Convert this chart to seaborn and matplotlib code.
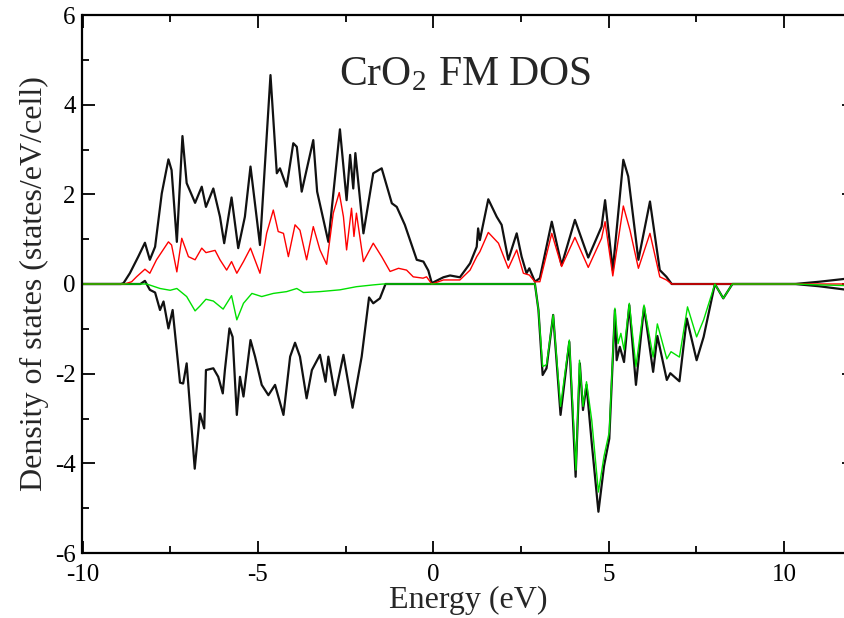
import matplotlib
matplotlib.use("Agg")
import matplotlib.pyplot as plt
import seaborn as sns
import pandas as pd
from matplotlib.ticker import MultipleLocator

# ---------------- data (energy eV, DOS states/eV/cell) ----------------
total_up = [(-10, 0), (-8.9, 0), (-8.83, 0.02), (-8.65, 0.24), (-8.41, 0.61), (-8.22, 0.92),
            (-8.08, 0.54), (-7.93, 0.83), (-7.74, 2.02), (-7.55, 2.78), (-7.46, 2.54), (-7.31, 0.94),
            (-7.15, 3.30), (-7.03, 2.25), (-6.79, 1.81), (-6.60, 2.17), (-6.48, 1.72), (-6.27, 2.13),
            (-6.08, 1.50), (-5.96, 0.91), (-5.75, 1.93), (-5.56, 0.80), (-5.37, 1.50), (-5.21, 2.62),
            (-4.94, 0.87), (-4.64, 4.66), (-4.46, 2.47), (-4.37, 2.58), (-4.18, 2.17), (-3.99, 3.14),
            (-3.89, 3.06), (-3.75, 2.06), (-3.42, 3.21), (-3.31, 2.06), (-2.99, 0.94), (-2.66, 3.45),
            (-2.47, 1.87), (-2.37, 2.88), (-2.28, 2.13), (-2.22, 2.92), (-1.99, 1.13), (-1.71, 2.47),
            (-1.47, 2.58), (-1.18, 1.80), (-1.04, 1.72), (-0.81, 1.32), (-0.47, 0.54), (-0.28, 0.50),
            (-0.14, 0.30), (-0.04, 0.02), (0.29, 0.15), (0.48, 0.19), (0.76, 0.15), (1.05, 0.46),
            (1.24, 0.83), (1.28, 1.24), (1.33, 0.98), (1.57, 1.89), (1.81, 1.50), (1.95, 1.32),
            (2.14, 0.54), (2.38, 1.13), (2.52, 0.61), (2.66, 0.24), (2.74, 0.35), (2.90, 0.05),
            (3.04, 0.13), (3.38, 1.39), (3.66, 0.42), (4.04, 1.43), (4.42, 0.59), (4.80, 1.28),
            (4.90, 1.87), (5.12, 0.31), (5.42, 2.77), (5.56, 2.40), (5.85, 0.54), (6.18, 1.84),
            (6.46, 0.31), (6.65, 0.16), (6.80, 0.0), (10.3, 0.0), (11.0, 0.05), (11.8, 0.12),
            (12.0, 0.14)]

cr_d_up = [(-10, 0), (-8.8, 0), (-8.6, 0.05), (-8.46, 0.16), (-8.22, 0.33), (-8.08, 0.24),
           (-7.89, 0.54), (-7.55, 0.94), (-7.46, 0.87), (-7.31, 0.27), (-7.17, 1.02), (-6.98, 0.61),
           (-6.79, 0.54), (-6.60, 0.80), (-6.48, 0.70), (-6.22, 0.75), (-6.08, 0.54), (-5.89, 0.31),
           (-5.75, 0.50), (-5.60, 0.24), (-5.41, 0.50), (-5.21, 0.80), (-4.94, 0.24), (-4.75, 1.13),
           (-4.56, 1.65), (-4.42, 1.17), (-4.27, 1.13), (-4.13, 0.61), (-3.94, 1.32), (-3.80, 1.20),
           (-3.61, 0.54), (-3.42, 1.28), (-3.23, 0.76), (-3.04, 0.44), (-2.85, 1.58), (-2.68, 2.04),
           (-2.56, 1.50), (-2.47, 0.76), (-2.33, 1.69), (-2.26, 1.06), (-2.19, 1.58), (-1.99, 0.50),
           (-1.71, 0.91), (-1.47, 0.61), (-1.23, 0.28), (-0.99, 0.35), (-0.76, 0.31), (-0.57, 0.16),
           (-0.29, 0.13), (-0.19, 0.16), (-0.04, 0.0), (0.29, 0.09), (0.76, 0.09), (1.05, 0.31),
           (1.24, 0.61), (1.33, 0.72), (1.57, 1.15), (1.86, 0.91), (2.14, 0.35), (2.38, 0.76),
           (2.57, 0.24), (2.74, 0.20), (2.90, 0.05), (3.04, 0.05), (3.38, 1.13), (3.66, 0.39),
           (4.04, 1.04), (4.42, 0.37), (4.80, 1.02), (4.90, 1.39), (5.12, 0.18), (5.42, 1.74),
           (5.61, 1.20), (5.85, 0.35), (6.18, 1.13), (6.46, 0.16), (6.65, 0.09), (6.80, 0.0),
           (12.0, 0.0)]

total_down = [(-10, 0), (-8.35, 0), (-8.22, 0.07), (-8.08, -0.13), (-7.93, -0.19), (-7.79, -0.58),
              (-7.69, -0.39), (-7.55, -0.99), (-7.43, -0.58), (-7.22, -2.20), (-7.13, -2.22),
              (-7.03, -1.77), (-6.80, -4.12), (-6.65, -2.89), (-6.53, -3.22), (-6.48, -1.92),
              (-6.27, -1.88), (-6.13, -2.07), (-6.00, -2.44), (-5.94, -1.92), (-5.81, -0.99),
              (-5.72, -1.18), (-5.60, -2.92), (-5.51, -2.07), (-5.41, -2.51), (-5.21, -1.25),
              (-5.08, -1.62), (-4.89, -2.25), (-4.70, -2.48), (-4.51, -2.25), (-4.27, -2.92),
              (-4.08, -1.62), (-3.94, -1.31), (-3.80, -1.62), (-3.61, -2.55), (-3.46, -1.92),
              (-3.23, -1.58), (-3.07, -2.18), (-2.99, -1.62), (-2.80, -2.48), (-2.56, -1.58),
              (-2.30, -2.76), (-2.04, -1.62), (-1.83, -0.30), (-1.71, -0.43), (-1.52, -0.32),
              (-1.36, 0), (2.90, 0), (3.00, -0.58), (3.12, -2.03), (3.23, -1.88), (3.42, -0.69),
              (3.63, -2.92), (3.88, -1.29), (4.06, -4.30), (4.18, -1.77), (4.27, -2.81), (4.37, -2.25),
              (4.52, -3.55), (4.71, -5.08), (4.87, -4.06), (5.02, -3.45), (5.18, -0.58), (5.23, -1.70),
              (5.32, -1.40), (5.44, -1.74), (5.59, -0.47), (5.78, -2.25), (6.01, -0.51), (6.27, -1.96),
              (6.39, -1.16), (6.66, -2.14), (6.76, -1.99), (7.02, -2.17), (7.23, -0.77), (7.51, -1.70),
              (7.71, -1.18), (8.03, 0), (8.27, -0.32), (8.53, 0), (10.3, 0), (11.0, -0.05),
              (11.8, -0.13), (12.0, -0.15)]

cr_d_down = [(-10, 0), (-8.17, 0), (-7.79, -0.10), (-7.50, -0.14), (-7.31, -0.10), (-7.03, -0.28),
             (-6.79, -0.60), (-6.65, -0.49), (-6.48, -0.34), (-6.27, -0.38), (-5.99, -0.56),
             (-5.75, -0.26), (-5.60, -0.80), (-5.41, -0.43), (-5.17, -0.21), (-4.89, -0.28),
             (-4.56, -0.21), (-4.18, -0.17), (-3.89, -0.10), (-3.70, -0.19), (-3.23, -0.17),
             (-2.66, -0.13), (-2.19, -0.06), (-1.71, -0.02), (-1.43, 0), (2.90, 0), (3.00, -0.58),
             (3.12, -1.84), (3.23, -1.80), (3.42, -0.69), (3.63, -2.73), (3.88, -1.25), (4.07, -4.15),
             (4.17, -1.70), (4.27, -2.73), (4.37, -2.18), (4.52, -3.04), (4.71, -4.64), (4.87, -3.84),
             (5.02, -3.30), (5.18, -0.54), (5.27, -1.33), (5.35, -1.10), (5.44, -1.47), (5.59, -0.43),
             (5.78, -1.84), (6.01, -0.47), (6.27, -1.63), (6.39, -0.89), (6.66, -1.67), (6.78, -1.51),
             (7.02, -1.63), (7.25, -0.51), (7.51, -1.18), (7.71, -0.80), (8.03, 0), (8.27, -0.32),
             (8.53, 0), (10.3, 0), (11.0, -0.02), (12.0, -0.04)]

title = "CrO$_\\mathregular{2}$ FM DOS"
x_label = "Energy (eV)"
y_label = "Density of states (states/eV/cell)"
x_ticks = [-10, -5, 0, 5, 10]
y_ticks = [-6, -4, -2, 0, 2, 4, 6]

# ---------------- plotting ----------------
sns.set_style("ticks")
plt.rcParams["font.family"] = ["Liberation Serif", "DejaVu Serif"]
plt.rcParams["mathtext.fontset"] = "stix"
plt.rcParams["axes.unicode_minus"] = False

fig = plt.figure(figsize=(8.45, 6.18), dpi=100)
ax = fig.add_axes([82.5 / 845, 65 / 618, 771.6 / 845, 538 / 618])

def frame(pairs):
    return pd.DataFrame(pairs, columns=["E", "DOS"])

sns.lineplot(data=frame(total_up), x="E", y="DOS", ax=ax, color="#111111", lw=1.6,
             estimator=None, sort=False)
sns.lineplot(data=frame(total_down), x="E", y="DOS", ax=ax, color="#111111", lw=1.6,
             estimator=None, sort=False)
sns.lineplot(data=frame(cr_d_up), x="E", y="DOS", ax=ax, color="#ff0000", lw=1.0,
             estimator=None, sort=False)
sns.lineplot(data=frame(cr_d_down), x="E", y="DOS", ax=ax, color="#00e000", lw=1.0,
             estimator=None, sort=False)

ax.set_xlim(-10, 12)
ax.set_ylim(-6, 6)
ax.set_xticks(x_ticks)
ax.set_yticks(y_ticks)
ax.xaxis.set_minor_locator(MultipleLocator(2.5))
ax.yaxis.set_minor_locator(MultipleLocator(1))
ax.tick_params(which="both", direction="in", top=True, right=True, width=1.3,
               labelsize=18, colors="black")
ax.tick_params(which="major", length=9)
ax.tick_params(axis="x", which="major", pad=8)
ax.tick_params(axis="y", which="major", pad=5)
ax.tick_params(which="minor", length=5)
for s in ax.spines.values():
    s.set_linewidth(1.6)
    s.set_color("black")

ax.set_xlabel(x_label, fontsize=23, labelpad=0)
ax.set_ylabel(y_label, fontsize=23, labelpad=4)
ax.text(0.9, 4.66, title, fontsize=30, ha="center", va="center")

fig.savefig("out.png", dpi=100)
